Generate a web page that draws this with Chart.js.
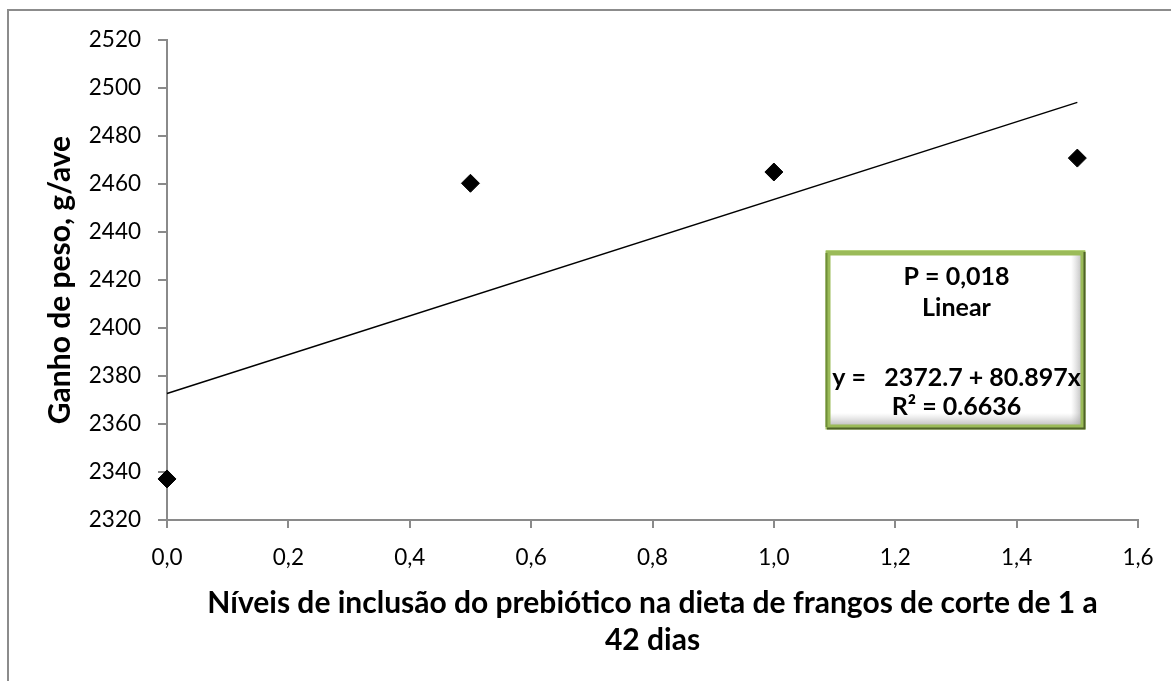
<!DOCTYPE html>
<html lang="pt">
<head>
    <meta charset="UTF-8">
    <title>Ganho de peso</title>
    <script src="https://cdn.jsdelivr.net/npm/chart.js"></script>
    <style>
        html, body {
            margin: 0;
            padding: 0;
            background: #ffffff;
        }

        #wrap {
            position: relative;
            width: 1171px;
            height: 681px;
        }
    </style>
</head>
<body>
<div id="wrap">
    <canvas id="gainChart"></canvas>
</div>

<script>
    // dados
    const levels = [0.0, 0.5, 1.0, 1.5];
    const weightGain = [2337.1, 2460.3, 2465.0, 2470.8];

    // linha de tendência (extremos)
    const trendX = [0.0, 1.5];
    const trendY = [2372.7, 2494.0];

    const xTickLabels = ['0,0', '0,2', '0,4', '0,6', '0,8', '1,0', '1,2', '1,4', '1,6'];
    const yTickLabels = ['2320', '2340', '2360', '2380', '2400', '2420', '2440', '2460', '2480', '2500', '2520'];

    const boxLines = ['P = 0,018', 'Linear', '', 'y =   2372.7 + 80.897x', 'R² = 0.6636'];

    const FONT = 'Lato, "Open Sans", sans-serif';

    // moldura externa
    const framePlugin = {
        id: 'frame',
        beforeDraw(chart) {
            const ctx = chart.ctx;
            ctx.save();
            ctx.strokeStyle = '#8c8c8c';
            ctx.lineWidth = 2;
            ctx.beginPath();
            ctx.moveTo(8, chart.height + 2);
            ctx.lineTo(8, 10);
            ctx.lineTo(chart.width + 2, 10);
            ctx.stroke();
            ctx.restore();
        }
    };

    // caixa com a equação
    const equationBox = {
        id: 'equationBox',
        afterDraw(chart) {
            const ctx = chart.ctx;
            const x0 = 828, y0 = 253, w = 255, h = 174;
            ctx.save();

            // sombra interna
            ctx.fillStyle = '#ffffff';
            ctx.fillRect(x0, y0, w, h);
            const sh = ctx.createLinearGradient(0, y0 + h - 14, 0, y0 + h);
            sh.addColorStop(0, 'rgba(180,180,180,0)');
            sh.addColorStop(1, 'rgba(150,150,150,0.7)');
            ctx.fillStyle = sh;
            ctx.fillRect(x0, y0 + h - 14, w, 14);
            const sr = ctx.createLinearGradient(x0 + w - 12, 0, x0 + w, 0);
            sr.addColorStop(0, 'rgba(180,180,180,0)');
            sr.addColorStop(1, 'rgba(150,150,150,0.7)');
            ctx.fillStyle = sr;
            ctx.fillRect(x0 + w - 12, y0, 12, h);

            // borda verde
            ctx.lineWidth = 5;
            ctx.strokeStyle = '#9bbb59';
            ctx.strokeRect(x0, y0, w, h);
            ctx.lineWidth = 2;
            ctx.strokeStyle = '#4f6228';
            ctx.beginPath();
            ctx.moveTo(x0 + w + 1.5, y0 - 1);
            ctx.lineTo(x0 + w + 1.5, y0 + h + 1.5);
            ctx.lineTo(x0 - 1, y0 + h + 1.5);
            ctx.stroke();
            ctx.strokeStyle = '#6f8f38';
            ctx.beginPath();
            ctx.moveTo(x0 - 1.5, y0 + h);
            ctx.lineTo(x0 - 1.5, y0);
            ctx.stroke();
            ctx.strokeStyle = '#b5d27a';
            ctx.lineWidth = 1;
            ctx.beginPath();
            ctx.moveTo(x0 - 2, y0 - 2.5);
            ctx.lineTo(x0 + w + 2, y0 - 2.5);
            ctx.stroke();

            // texto
            ctx.fillStyle = '#000000';
            ctx.font = 'bold 25px ' + FONT;
            ctx.textAlign = 'center';
            ctx.textBaseline = 'middle';
            const ys = [24, 55, 90, 125, 154];
            boxLines.forEach((t, i) => {
                if (t) ctx.fillText(t, x0 + w / 2 + 1, y0 + ys[i]);
            });
            ctx.restore();
        }
    };

    function setupChart() {
        const ctx = document.getElementById('gainChart').getContext('2d');
        return new Chart(ctx, {
            type: 'scatter',
            data: {
                datasets: [
                    {
                        label: 'Ganho de peso',
                        data: levels.map((x, i) => ({x: x, y: weightGain[i]})),
                        pointStyle: 'rectRot',
                        pointRadius: 9,
                        pointBackgroundColor: '#000000',
                        pointBorderColor: '#000000',
                        pointBorderWidth: 1,
                        showLine: false,
                        clip: false,
                        order: 1
                    },
                    {
                        label: 'Linear',
                        data: trendX.map((x, i) => ({x: x, y: trendY[i]})),
                        showLine: true,
                        borderColor: '#000000',
                        borderWidth: 1.5,
                        pointRadius: 0,
                        fill: false,
                        clip: false,
                        order: 2
                    }
                ]
            },
            options: {
                responsive: true,
                maintainAspectRatio: false,
                animation: false,
                layout: {
                    padding: {top: 40, right: 33, left: 0, bottom: 0}
                },
                plugins: {
                    legend: {display: false},
                    tooltip: {enabled: false}
                },
                scales: {
                    x: {
                        type: 'linear',
                        min: 0,
                        max: 1.6,
                        afterBuildTicks(scale) {
                            scale.ticks = xTickLabels.map((_, i) => ({value: i * 0.2}));
                        },
                        afterFit(scale) {
                            scale.height = 161;
                        },
                        ticks: {
                            color: '#000000',
                            font: {family: FONT, size: 22.5},
                            padding: 16,
                            maxRotation: 0,
                            callback: (v, i) => xTickLabels[i]
                        },
                        grid: {
                            drawOnChartArea: false,
                            drawTicks: true,
                            tickLength: 8,
                            color: '#8a8a8a',
                            lineWidth: 2
                        },
                        border: {color: '#8a8a8a', width: 2},
                        title: {
                            display: true,
                            text: ['Níveis de inclusão do prebiótico na dieta de frangos de corte de 1 a', '42 dias'],
                            color: '#000000',
                            font: {family: FONT, size: 30, weight: 'bold', lineHeight: 1.233},
                            padding: {top: 0, bottom: 22}
                        }
                    },
                    y: {
                        type: 'linear',
                        min: 2320,
                        max: 2520,
                        afterBuildTicks(scale) {
                            scale.ticks = yTickLabels.map(t => ({value: Number(t)}));
                        },
                        afterFit(scale) {
                            scale.width = 167;
                        },
                        ticks: {
                            color: '#000000',
                            font: {family: FONT, size: 22.5},
                            padding: 17,
                            callback: (v, i) => yTickLabels[i]
                        },
                        grid: {
                            drawOnChartArea: false,
                            drawTicks: true,
                            tickLength: 9,
                            color: '#8a8a8a',
                            lineWidth: 2
                        },
                        border: {color: '#8a8a8a', width: 2},
                        title: {
                            display: true,
                            text: 'Ganho de peso, g/ave',
                            color: '#000000',
                            font: {family: FONT, size: 30, weight: 'bold', lineHeight: 1.2},
                            padding: {top: 42, bottom: 0}
                        }
                    }
                }
            },
            plugins: [framePlugin, equationBox]
        });
    }

    setupChart();
</script>
</body>
</html>
